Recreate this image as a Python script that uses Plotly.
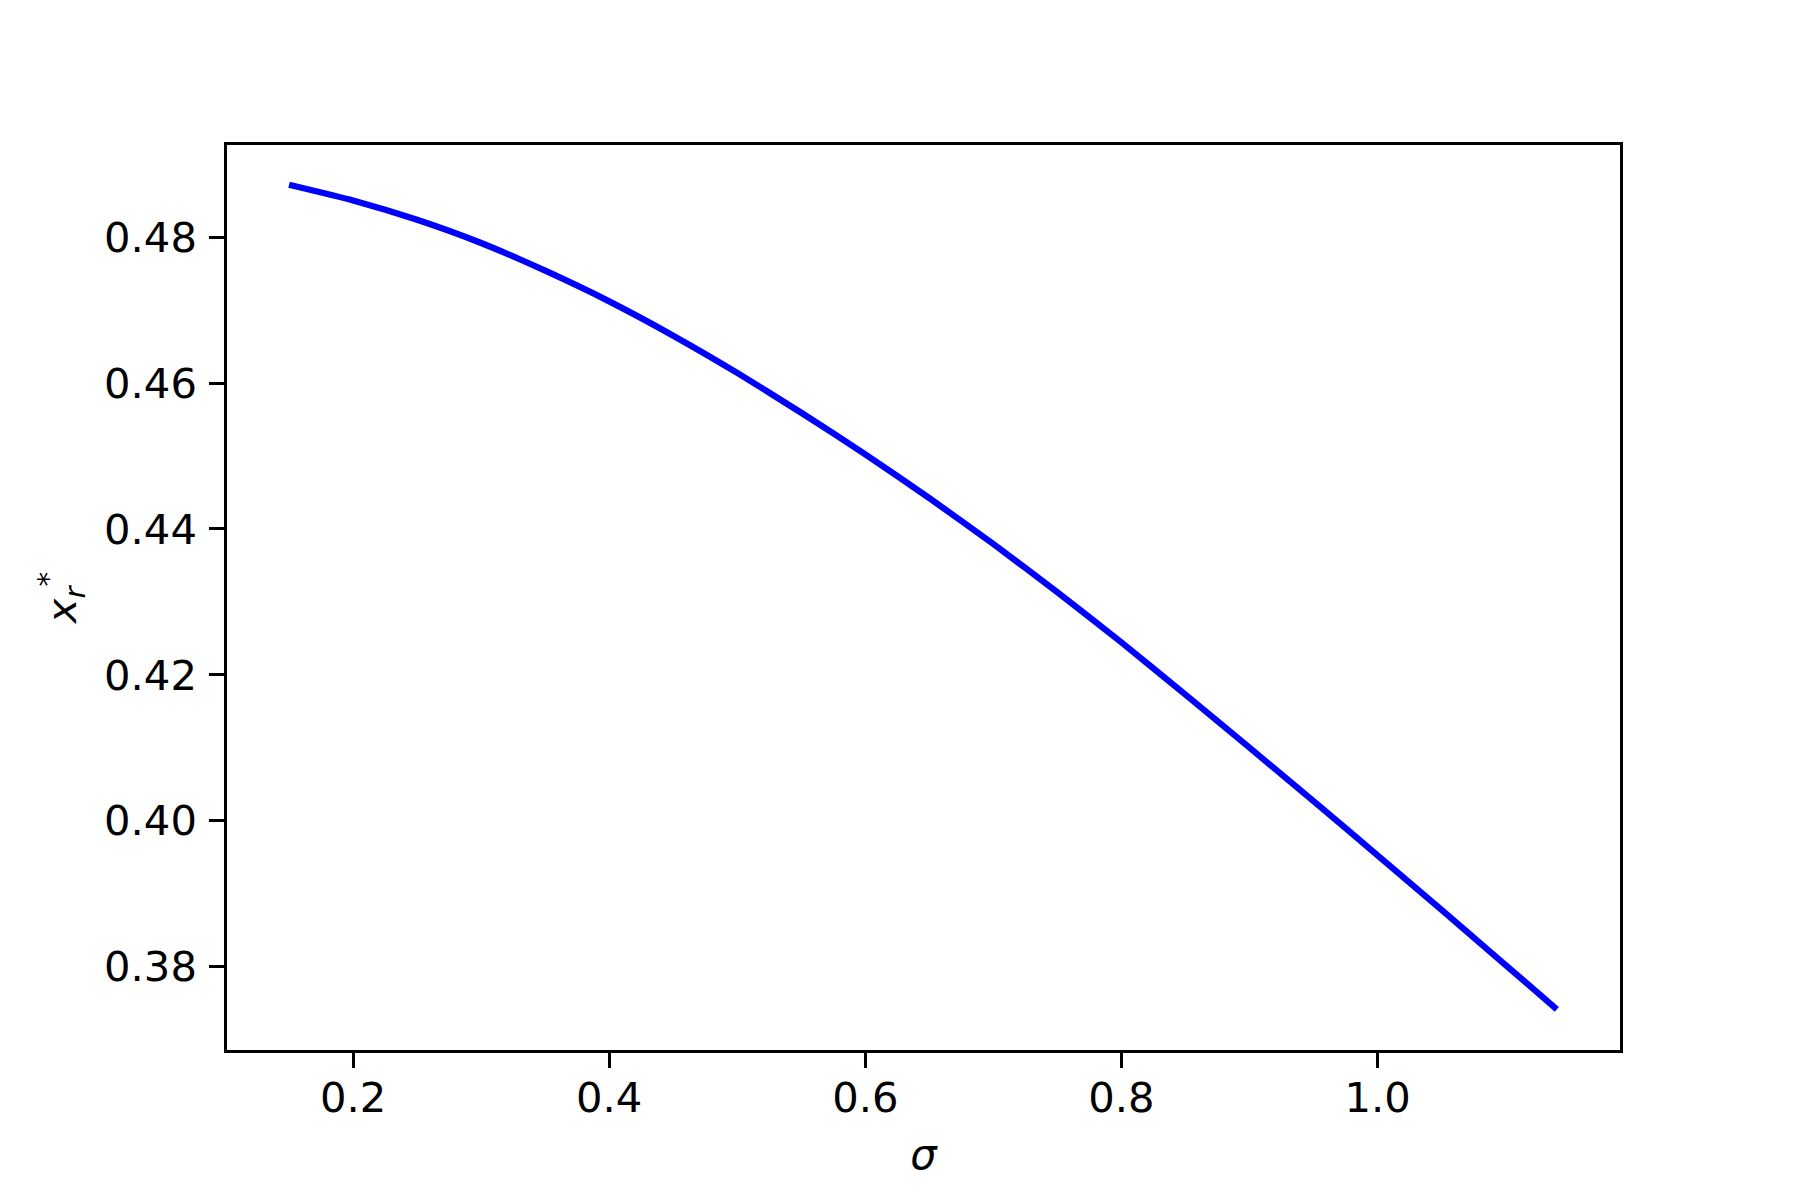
import plotly.graph_objects as go

# data
sigma = [0.15, 0.20, 0.25, 0.30, 0.35, 0.40, 0.45, 0.50, 0.55, 0.60, 0.65,
         0.70, 0.75, 0.80, 0.85, 0.90, 0.95, 1.00, 1.05, 1.10, 1.14]
x_r_star = [0.48718, 0.48503, 0.48238, 0.47920, 0.47540, 0.47120, 0.46650,
            0.46140, 0.45593, 0.45023, 0.44423, 0.43793, 0.43133, 0.42446,
            0.41729, 0.41003, 0.40269, 0.39528, 0.38779, 0.38023, 0.37416]

x_ticks = [0.2, 0.4, 0.6, 0.8, 1.0]
x_tick_labels = ["0.2", "0.4", "0.6", "0.8", "1.0"]
y_ticks = [0.38, 0.40, 0.42, 0.44, 0.46, 0.48]
y_tick_labels = ["0.38", "0.40", "0.42", "0.44", "0.46", "0.48"]

FONT = "DejaVu Sans"
FS = 41.7

fig = go.Figure()
fig.add_trace(go.Scatter(x=sigma, y=x_r_star, mode="lines",
                         line=dict(color="#0000ff", width=6.25, shape="spline", smoothing=0.5),
                         showlegend=False, hoverinfo="skip"))

axis_common = dict(showline=True, mirror=True, linecolor="black", linewidth=3.3,
                   ticks="outside", ticklen=14.6, tickwidth=3.3, tickcolor="black",
                   showgrid=False, zeroline=False,
                   tickfont=dict(family=FONT, size=FS, color="black"))

fig.update_xaxes(range=[0.10155, 1.18933], tickvals=x_ticks, ticktext=x_tick_labels,
                 ticklabelstandoff=-6,
                 title=dict(text="<i>σ</i>", font=dict(family=FONT, size=FS, color="black"),
                            standoff=20),
                 **axis_common)
fig.update_yaxes(range=[0.36859, 0.49263], tickvals=y_ticks, ticktext=y_tick_labels,
                 ticklabelstandoff=4,
                 title=dict(text="<i>x</i><sub><i>r</i></sub><sup>*</sup>",
                            font=dict(family=FONT, size=FS, color="black"), standoff=15),
                 **axis_common)

fig.update_layout(width=1792, height=1192,
                  margin=dict(l=219, r=179.5, t=136.5, b=150, autoexpand=False),
                  paper_bgcolor="white", plot_bgcolor="white",
                  font=dict(family=FONT, size=FS, color="black"))

fig.write_html("out.html")
